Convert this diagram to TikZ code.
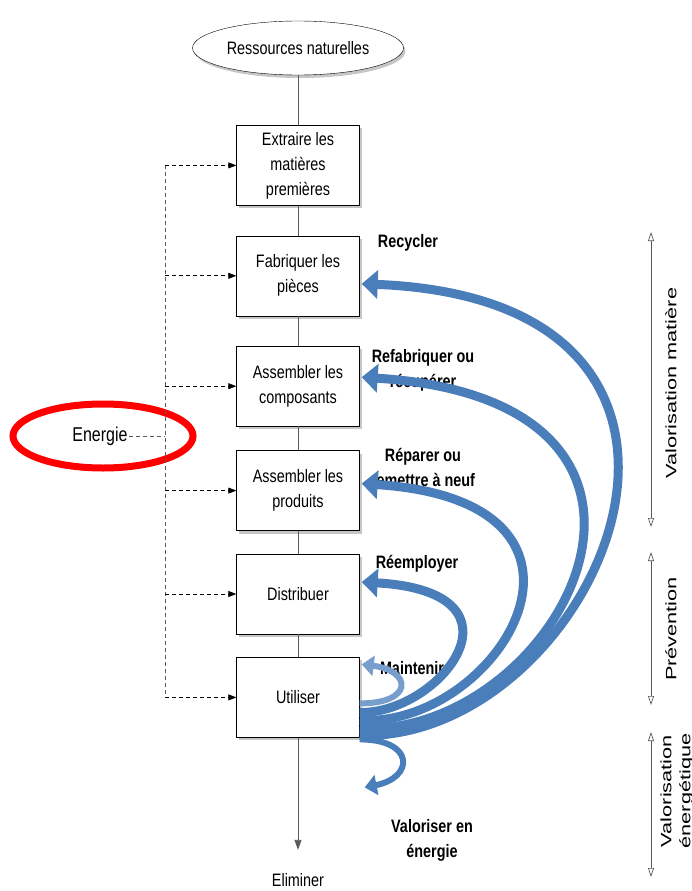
\documentclass[tikz,border=0pt]{standalone}
\usepackage{fontspec}
\setmainfont[FakeStretch=0.8]{Liberation Sans}
\newfontfamily\sidefont[FakeStretch=1.45]{Liberation Sans}
\usepackage{tikz}
\usetikzlibrary{shapes.geometric, arrows.meta, positioning, shadows}
\definecolor{arcblue}{RGB}{74,126,187}
\definecolor{flowgray}{RGB}{90,90,90}
\tikzstyle{source} = [ellipse, minimum width=196pt, minimum height=54pt, text centered, draw=black, fill=white, drop shadow={shadow xshift=2pt, shadow yshift=-3pt, opacity=0.45}, font=\fontsize{18}{25}\selectfont]
\tikzstyle{stage} = [rectangle, minimum width=123pt, minimum height=80pt, align=center, draw=black, fill=white, drop shadow={shadow xshift=2pt, shadow yshift=-3pt, opacity=0.45}, font=\fontsize{18}{25}\selectfont]
\tikzstyle{txt} = [font=\fontsize{18}{25}\selectfont, align=center]
\tikzstyle{lbl} = [font=\bfseries\fontsize{18}{25}\selectfont, align=center]
\tikzstyle{side} = [font=\sidefont\fontsize{15}{19}\selectfont, rotate=90, align=center]
\tikzstyle{flow} = [flowgray, line width=0.8pt]
\tikzstyle{energy} = [flowgray, dash pattern=on 4pt off 3pt, line width=0.7pt]
\tikzstyle{feed} = [black, dash pattern=on 4pt off 3pt, line width=0.7pt, -{Triangle[length=8pt,width=6pt]}]
\tikzstyle{backarc} = [arcblue, line width=9pt, -{Triangle[length=16pt,width=28pt]}]
\tikzstyle{smallarc} = [arcblue, line width=6pt, -{Triangle[length=12pt,width=20pt]}]
\tikzstyle{sidearrow} = [flowgray, line width=0.7pt, {Triangle[open,length=9pt,width=6pt]}-{Triangle[open,length=9pt,width=6pt]}]

\begin{document}
\begin{tikzpicture}[x=1pt, y=-1pt]
	\useasboundingbox (0,0) rectangle (692,891);
	% main chain
	\node (res) [source] at (298,48) {Ressources naturelles};
	\node (ext) [stage, below=50pt of res] {Extraire les\\matières\\premières};
	\node (fab) [stage, below=30pt of ext] {Fabriquer les\\pièces};
	\node (comp) [stage, below=30pt of fab] {Assembler les\\composants};
	\node (prod) [stage, below=24pt of comp] {Assembler les\\produits};
	\node (dist) [stage, below=23pt of prod] {Distribuer};
	\node (use) [stage, below=23pt of dist] {Utiliser};
	\node (elim) [txt] at (298,880) {Eliminer};
	\foreach \a/\b in {res/ext, ext/fab, fab/comp, comp/prod, prod/dist, dist/use}
		\draw [flow] (\a) -- (\b);
	\draw [flow, -{Triangle[length=10pt,width=7pt]}] (use) -- ([yshift=20pt]elim.north);

	% energy inputs
	\node (ring) [draw=red, line width=7pt, ellipse, minimum width=180pt, minimum height=64pt] at (103,436) {};
	\node (en) [font=\fontsize{20}{22}\selectfont, inner sep=1pt] at (100,436) {Energie};
	\coordinate (bus) at (165,436);
	\draw [energy] (en) -- (bus);
	\draw [energy] (bus |- ext) -- (bus |- use);
	\foreach \b in {ext, fab, comp, prod, dist, use}
		\draw [feed] (bus |- \b) -- (\b);

	% loop labels
	\node (lrec) [lbl] at (408,243) {Recycler};
	\node (lrefab) [lbl] at (423,370) {Refabriquer ou\\récupérer};
	\node (lrep) [lbl] at (423,467) {Réparer ou\\remettre à neuf};
	\node (lreem) [lbl] at (417,564) {Réemployer};
	\node (lmaint) [lbl] at (412,668) {Maintenir};
	\node (lval) [lbl] at (432,840) {Valoriser en\\énergie};

	% loops back from use
	\draw [backarc] ([yshift=-38pt]use.east) .. controls +(235,7) and +(430,17) .. ([xshift=2pt,yshift=-8pt]fab.east);
	\draw [backarc] ([yshift=-31pt]use.east) .. controls +(200,9) and +(375,24) .. ([xshift=2pt,yshift=9pt]comp.east);
	\draw [backarc] ([yshift=-23pt]use.east) .. controls +(140,7) and +(275,18) .. ([xshift=2pt,yshift=7pt]prod.east);
	\draw [backarc] ([yshift=-15pt]use.east) .. controls +(80,2) and +(175,10) .. ([xshift=2pt,yshift=12pt]dist.east);
	\draw [smallarc, arcblue!75] ([yshift=-6pt]use.east) .. controls +(55,0) and +(50,6) .. ([xshift=2pt,yshift=33pt]use.east);
	\draw [smallarc] ([yshift=-42pt]use.east) .. controls +(55,0) and +(50,-10) .. ([xshift=5pt,yshift=-90pt]use.east);

	% value scales
	\coordinate (vmtop) at (651,232);
	\coordinate (vmbot) at (651,527);
	\coordinate (prtop) at (651,552);
	\coordinate (prbot) at (651,705);
	\coordinate (vetop) at (651,732);
	\coordinate (vebot) at (651,877);
	\draw [sidearrow] (vmtop) -- (vmbot);
	\draw [sidearrow] (prtop) -- (prbot);
	\draw [sidearrow] (vetop) -- (vebot);
	\node (vm) [side] at (671,383) {Valorisation matière};
	\node (pr) [side] at (671,629) {Prévention};
	\node (ve) [side] at (677,791) {Valorisation\\énergétique};
\end{tikzpicture}
\end{document}
